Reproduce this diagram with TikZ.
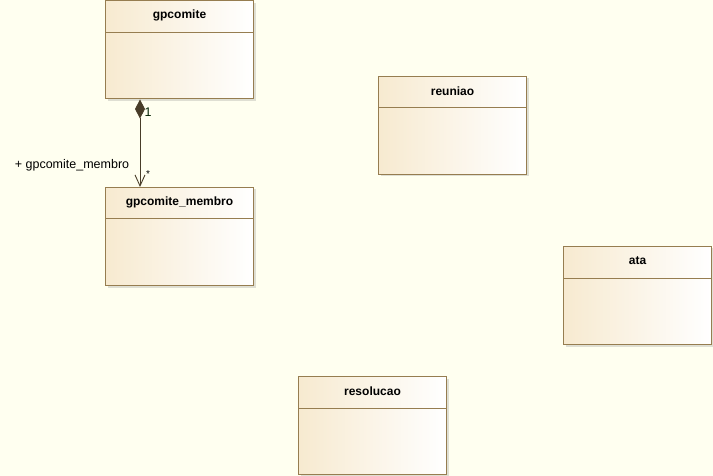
\documentclass[tikz,border=0pt]{standalone}
\usepackage{fontspec}
\setmainfont{Liberation Sans}
\usetikzlibrary{arrows.meta,shadows,calc}
\definecolor{bgc}{RGB}{255,255,240}
\definecolor{boxl}{RGB}{247,234,208}
\definecolor{boxb}{RGB}{150,125,80}
\definecolor{linec}{RGB}{72,60,40}
\tikzset{
  umlbox/.style={rectangle, draw=boxb, line width=1pt, left color=boxl, right color=white,
    minimum width=148pt, minimum height=98pt, inner sep=0pt, anchor=north west,
    drop shadow={shadow xshift=2pt, shadow yshift=-2pt, opacity=0.25, fill=gray}},
  umltitle/.style={font=\fontsize{12}{14}\selectfont\bfseries, text=black, inner sep=0pt},
  umllabel/.style={font=\fontsize{12.5}{14}\selectfont, text=black, inner sep=0pt},
  assoc/.style={draw=linec, line width=0.9pt},
}
\begin{document}
\begin{tikzpicture}[x=1pt,y=-1pt]
\fill[bgc] (0,0) rectangle (713,476);
\useasboundingbox (0,0) rectangle (713,476);
% boxes
\node[umlbox] (gpcomite) at (105,0.5) {};
\node[umlbox] (membro) at (105,187) {};
\node[umlbox] (reuniao) at (378,76) {};
\node[umlbox] (ata) at (563,246) {};
\node[umlbox] (resolucao) at (298,376) {};
\foreach \b/\t in {gpcomite/gpcomite, membro/gpcomite\_membro, reuniao/reuniao, ata/ata, resolucao/resolucao}{
  \draw[draw=boxb, line width=1pt] ([yshift=-32pt]\b.north west) -- ([yshift=-32pt]\b.north east);
  \node[umltitle] (\b-title) at ($(\b.north)+(0,15)$) {\t};
}
% association
\draw[assoc, {Diamond[length=19pt,width=10pt,fill=linec]}-{Straight Barb[length=11pt,width=10pt]}]
  ([xshift=35pt]gpcomite.south west) -- ([xshift=35pt]membro.north west);
\node[umllabel, text=black!70!green!40!black] (m1) at (148,112) {1};
\node[umllabel, font=\fontsize{10}{12}\selectfont] (m2) at (148,174) {*};
\node[umllabel] (role) at (72,165) {+ gpcomite\_membro};
\end{tikzpicture}
\end{document}
